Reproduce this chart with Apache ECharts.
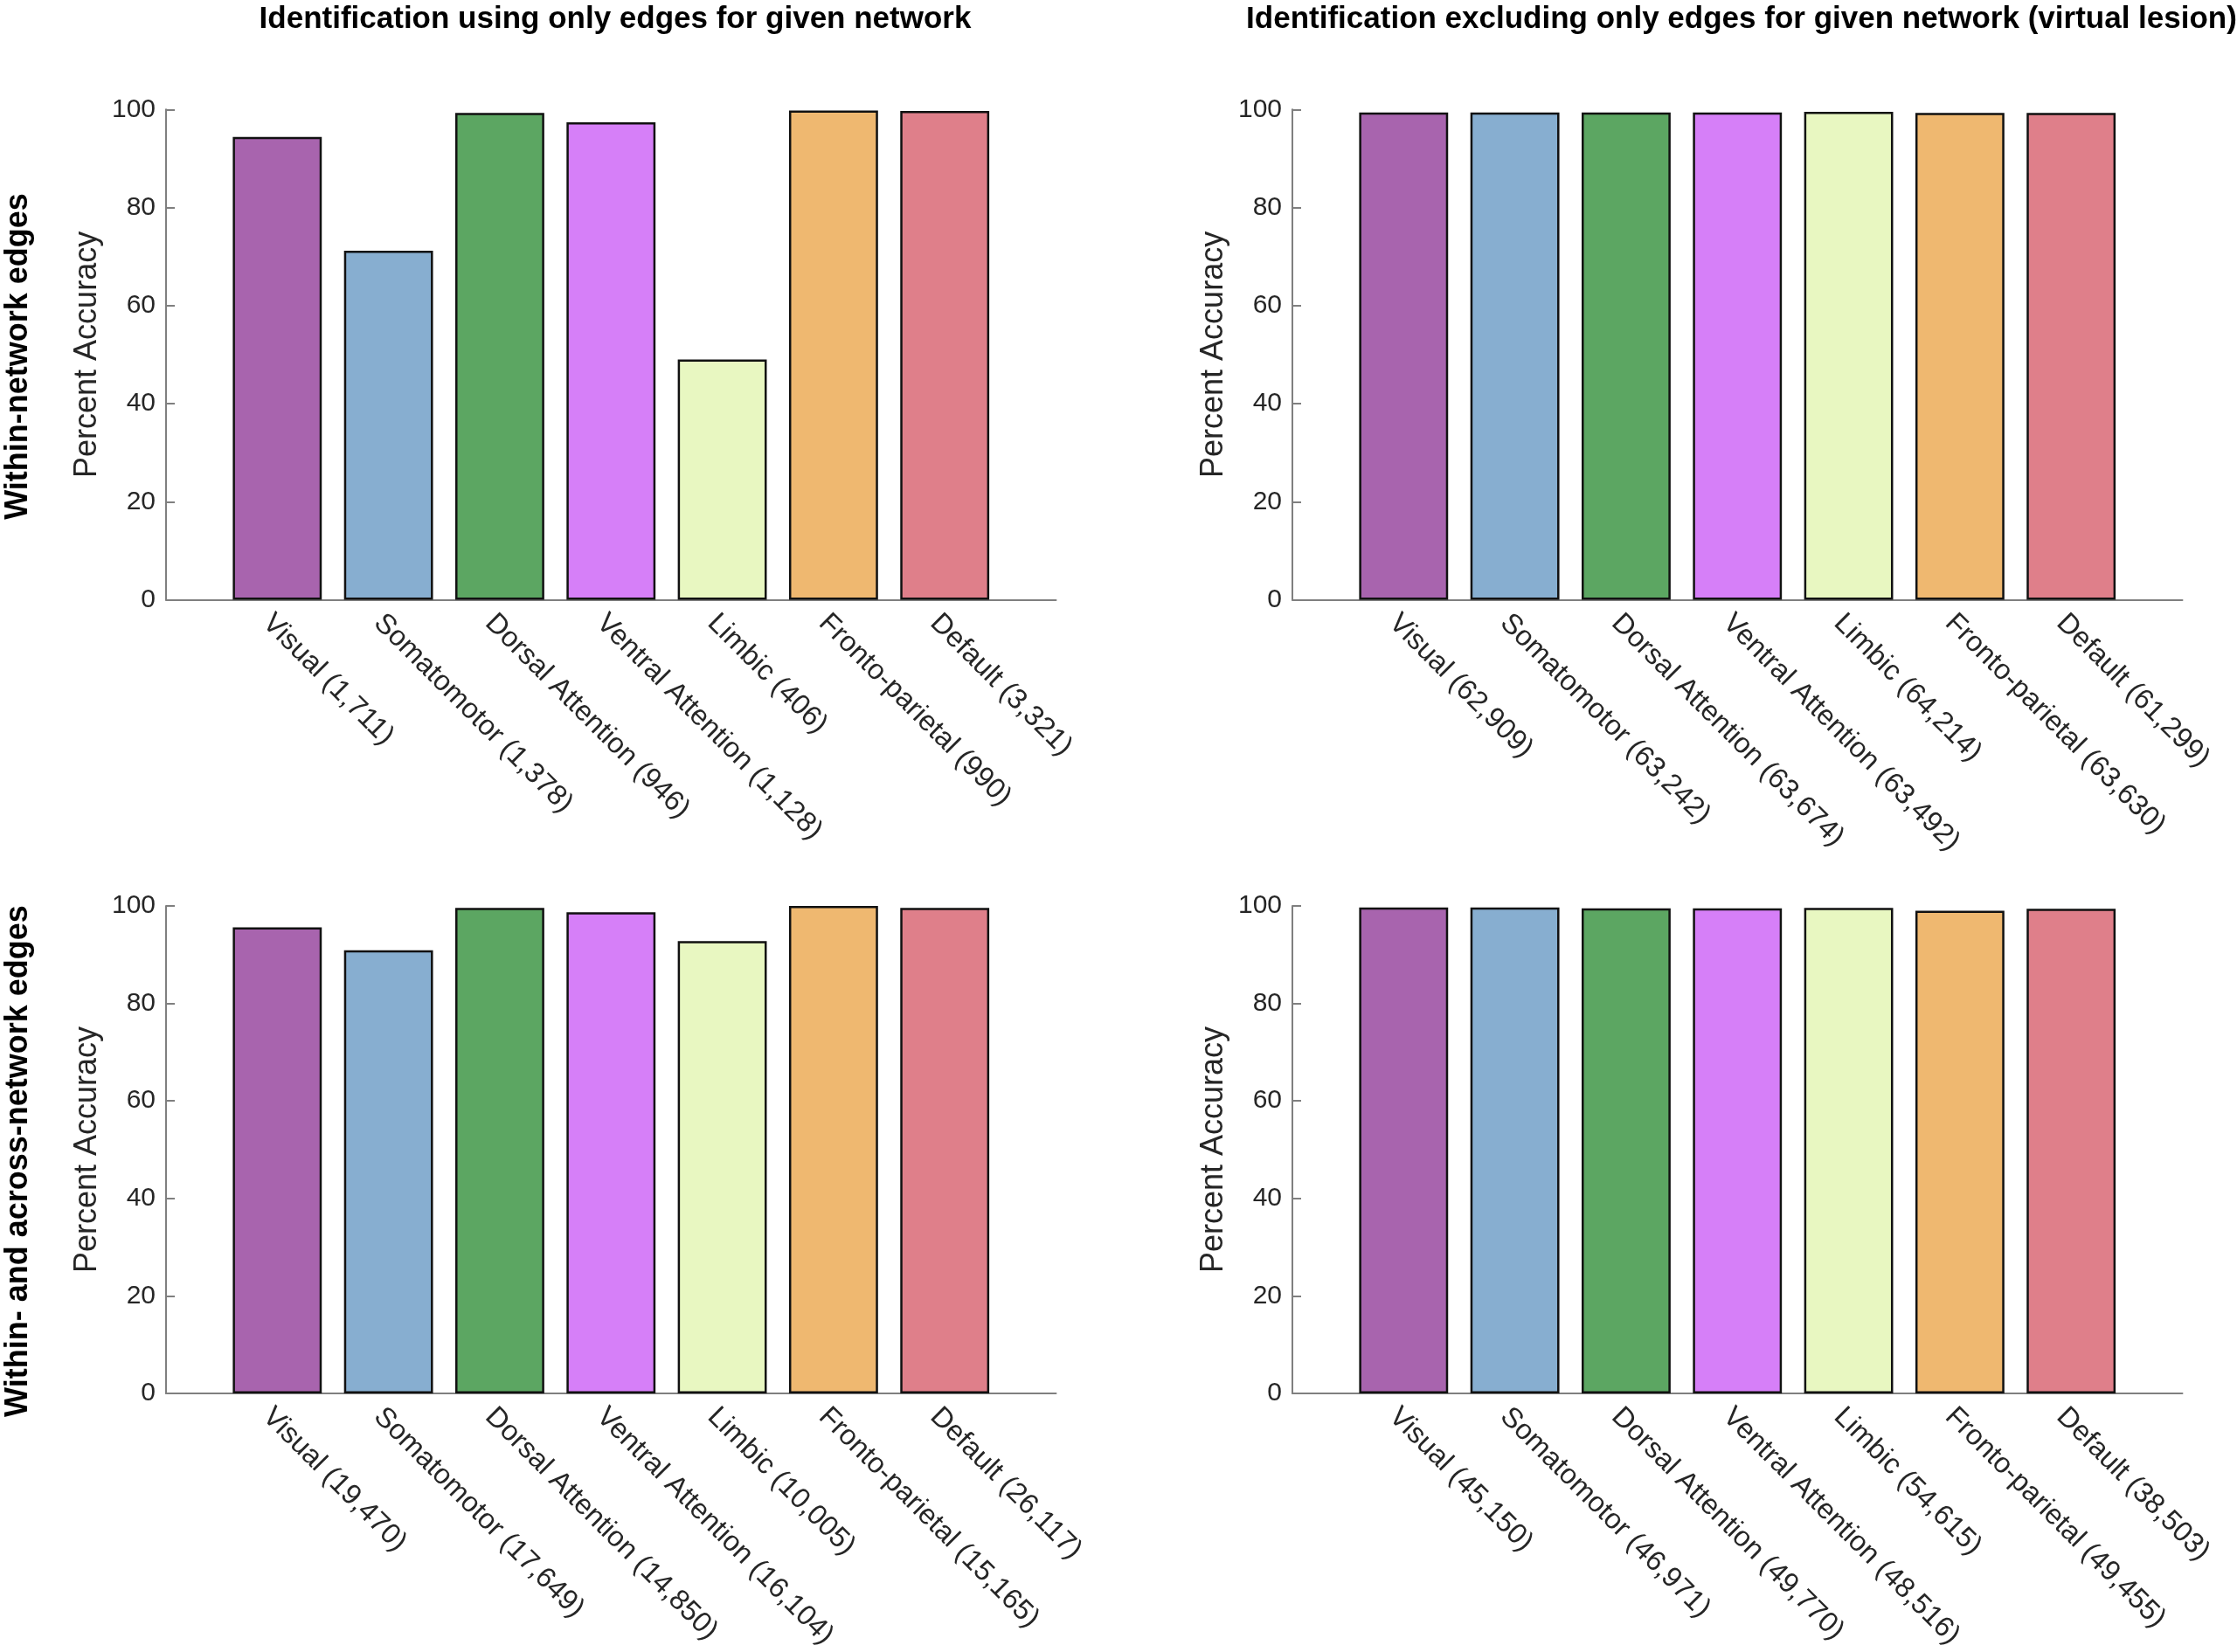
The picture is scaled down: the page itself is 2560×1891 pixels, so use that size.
<!DOCTYPE html>
<html>
<head>
<meta charset="utf-8">
<script src="https://cdn.jsdelivr.net/npm/echarts@6/dist/echarts.min.js"></script>
<style>
html,body{margin:0;padding:0;background:#fff;}
#chart{width:2560px;height:1891px;}
</style>
</head>
<body>
<div id="chart"></div>
<script>
// ---- data ----
const categories = ['Visual','Somatomotor','Dorsal Attention','Ventral Attention','Limbic','Fronto-parietal','Default'];
const edgesWithinOnly  = ['1,711','1,378','946','1,128','406','990','3,321'];
const edgesWithinExcl  = ['62,909','63,242','63,674','63,492','64,214','63,630','61,299'];
const edgesAllOnly     = ['19,470','17,649','14,850','16,104','10,005','15,165','26,117'];
const edgesAllExcl     = ['45,150','46,971','49,770','48,516','54,615','49,455','38,503'];
const accWithinOnly = [94.4, 71.2, 99.3, 97.4, 49.0, 99.8, 99.7];
const accWithinExcl = [99.4, 99.4, 99.4, 99.4, 99.5, 99.3, 99.3];
const accAllOnly    = [95.6, 90.9, 99.6, 98.7, 92.8, 100.0, 99.6];
const accAllExcl    = [99.7, 99.7, 99.5, 99.5, 99.6, 99.0, 99.4];
const yMin = 0, yMax = 100, yStep = 20;
const titleLeft  = 'Identification using only edges for given network';
const titleRight = 'Identification excluding only edges for given network (virtual lesion)';
const rowLabels = ['Within-network edges', 'Within- and across-network edges'];
const yName = 'Percent Accuracy';

// ---- styles ----
const barColors = ['#A864AE','#87AED0','#5CA662','#D67FF8','#E8F7C1','#EFB870','#DF7F8A'];
const FONT = "'Liberation Sans', Arial, Helvetica, sans-serif";
const txt = '#262626';
const axisGrey = '#7f7f7f';

const panels = [
  {acc: accWithinOnly, edges: edgesWithinOnly, left: 190,  top: 125.3},
  {acc: accWithinExcl, edges: edgesWithinExcl, left: 1479, top: 125.3},
  {acc: accAllOnly,    edges: edgesAllOnly,    left: 190,  top: 1037},
  {acc: accAllExcl,    edges: edgesAllExcl,    left: 1479, top: 1037}
];

const grid = [], xAxis = [], yAxis = [], series = [];
panels.forEach((p, i) => {
  grid.push({left: p.left, top: p.top, width: 1018.5, height: 561.2, containLabel: false});
  const labels = [''].concat(categories.map((c, k) => c + ' (' + p.edges[k] + ')')).concat(['']);
  xAxis.push({
    type: 'category', gridIndex: i, data: labels, boundaryGap: false,
    axisLine: {show: true, lineStyle: {color: axisGrey, width: 2}},
    axisTick: {show: false},
    axisLabel: {interval: 0, rotate: -45, margin: 10, align: 'left', verticalAlign: 'top',
                color: txt, fontSize: 32.5, fontFamily: FONT, hideOverlap: false},
    splitLine: {show: false}
  });
  yAxis.push({
    type: 'value', gridIndex: i, min: yMin, max: yMax, interval: yStep,
    name: yName, nameLocation: 'middle', nameGap: 72,
    nameTextStyle: {fontSize: 36, color: txt, fontFamily: FONT},
    axisLine: {show: true, lineStyle: {color: axisGrey, width: 2}},
    axisTick: {show: true, inside: true, length: 10, lineStyle: {color: axisGrey, width: 2}},
    axisLabel: {margin: 12, color: txt, fontSize: 30, fontFamily: FONT},
    splitLine: {show: false}
  });
  const data = ['-'].concat(p.acc.map((v, k) => ({
    value: v,
    itemStyle: {color: barColors[k]}
  }))).concat(['-']);
  series.push({
    type: 'bar', xAxisIndex: i, yAxisIndex: i, data: data,
    barWidth: '80%',
    itemStyle: {borderColor: '#111', borderWidth: 2.5},
    silent: true, animation: false
  });
});

const option = {
  backgroundColor: '#fff',
  animation: false,
  title: [
    {text: titleLeft, left: 699, top: 0, textAlign: 'center',
     textStyle: {fontSize: 35, fontWeight: 'bold', color: '#000', fontFamily: FONT}},
    {text: titleRight, left: 1988, top: 0, textAlign: 'center',
     textStyle: {fontSize: 35, fontWeight: 'bold', color: '#000', fontFamily: FONT}}
  ],
  graphic: [
    {type: 'text', x: 21, y: 408, rotation: Math.PI / 2,
     style: {text: rowLabels[0], fontSize: 36, fontWeight: 'bold', fontFamily: FONT, fill: '#000', align: 'center', verticalAlign: 'middle'}},
    {type: 'text', x: 21, y: 1329, rotation: Math.PI / 2,
     style: {text: rowLabels[1], fontSize: 36, fontWeight: 'bold', fontFamily: FONT, fill: '#000', align: 'center', verticalAlign: 'middle'}}
  ],
  grid: grid, xAxis: xAxis, yAxis: yAxis, series: series
};

const chart = echarts.init(document.getElementById('chart'), null, {renderer: 'canvas'});
chart.setOption(option);
</script>
</body>
</html>
